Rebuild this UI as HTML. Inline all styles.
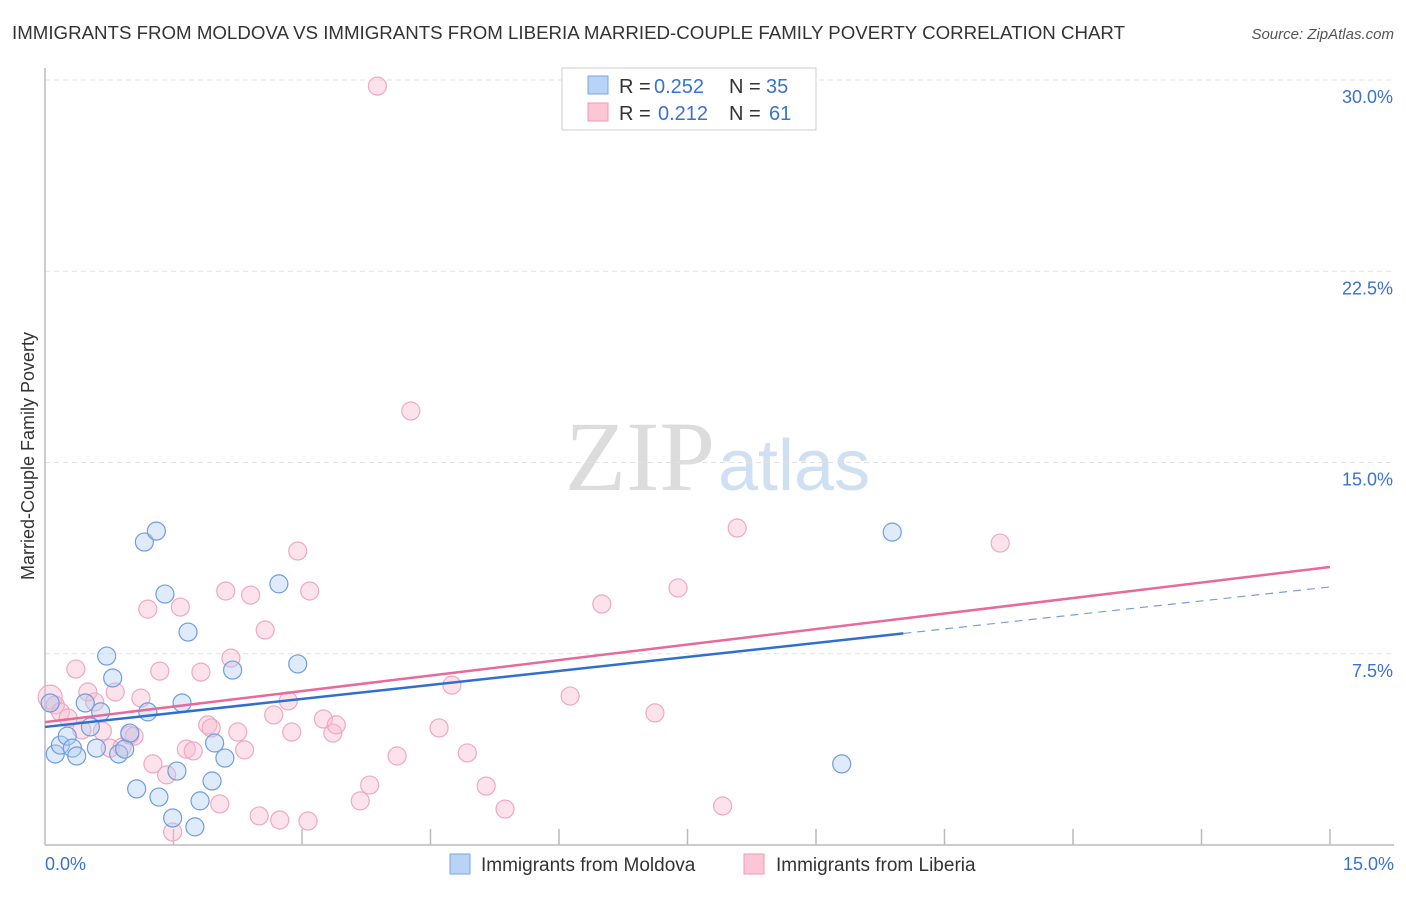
<!DOCTYPE html>
<html><head><meta charset="utf-8"><style>
body{margin:0;background:#fff;font-family:"Liberation Sans",sans-serif;}
</style></head><body>
<svg id="c" width="1406" height="892" xmlns="http://www.w3.org/2000/svg" font-family="Liberation Sans, sans-serif">
<text x="12" y="39" font-size="18" fill="#333" textLength="1113" lengthAdjust="spacingAndGlyphs">IMMIGRANTS FROM MOLDOVA VS IMMIGRANTS FROM LIBERIA MARRIED-COUPLE FAMILY POVERTY CORRELATION CHART</text>
<text x="1394" y="39" font-size="15" fill="#555" text-anchor="end" font-style="italic">Source: ZipAtlas.com</text>
<text x="715" y="490" font-size="100" fill="#dcdcdc" text-anchor="end" style="font-family:'Liberation Serif',serif">ZIP</text>
<text x="718" y="490" font-size="72" fill="#cfe0f3">atlas</text>
<text transform="translate(34,456) rotate(-90)" font-size="18" fill="#333" text-anchor="middle">Married-Couple Family Poverty</text>
<g id="grid"></g><g id="pts"></g><g id="lines"></g>
<g>
<rect x="562" y="68" width="254" height="62" fill="#fff" stroke="#ccc"/>
<rect x="588" y="76" width="20" height="18" fill="#b8d3f5" stroke="#7aa6e0"/>
<rect x="588" y="103" width="20" height="18" fill="#fcc6d6" stroke="#ee9ab4"/>
<text x="619" y="93" font-size="20" fill="#333">R =</text>
<text x="654" y="93" font-size="20" fill="#3a72d1">0.252</text>
<text x="729" y="93" font-size="20" fill="#333">N =</text>
<text x="766" y="93" font-size="20" fill="#3a72d1">35</text>
<text x="619" y="120" font-size="20" fill="#333">R =</text>
<text x="658" y="120" font-size="20" fill="#3a72d1">0.212</text>
<text x="729" y="120" font-size="20" fill="#333">N =</text>
<text x="769" y="120" font-size="20" fill="#3a72d1">61</text>
</g>
<g>
<rect x="450" y="854" width="20" height="20" fill="#b8d3f5" stroke="#7aa6e0"/>
<text x="481" y="871" font-size="19" fill="#333">Immigrants from Moldova</text>
<rect x="744" y="854" width="20" height="20" fill="#fcc6d6" stroke="#ee9ab4"/>
<text x="776" y="871" font-size="19" fill="#333">Immigrants from Liberia</text>
</g>
</svg>
<script>
const yTicks=[7.5,15,22.5,30];
const yTickLabels=["7.5%","15.0%","22.5%","30.0%"];
const xTickLabels=["0.0%","15.0%"];
const moldovaX=[0.12,0.18,0.26,0.32,0.37,0.47,0.60,0.65,0.72,0.79,0.86,0.93,0.99,1.07,1.16,1.20,1.30,1.33,1.40,1.49,1.54,1.60,1.67,1.75,1.81,1.95,1.98,2.10,2.19,2.73,2.95,9.30,9.89,0.06,0.53];
const moldovaY=[3.57,3.92,4.27,3.80,3.49,5.57,3.80,5.22,7.41,6.55,3.57,3.76,4.39,2.20,11.88,5.22,12.31,1.88,9.84,1.06,2.90,5.57,8.35,0.71,1.73,2.51,4.00,3.41,6.86,10.24,7.10,3.18,12.27,5.57,4.63];
const liberiaX=[0.06,0.12,0.18,0.27,0.36,0.43,0.50,0.58,0.67,0.76,0.82,0.90,0.99,1.04,1.12,1.20,1.26,1.34,1.42,1.49,1.58,1.65,1.73,1.82,1.90,1.94,2.04,2.11,2.17,2.25,2.33,2.40,2.50,2.57,2.67,2.74,2.84,2.88,2.95,3.07,3.09,3.25,3.36,3.40,3.68,3.79,3.88,4.11,4.27,4.60,4.75,4.93,5.15,5.37,6.13,6.50,7.12,7.39,7.91,8.08,11.15];
const liberiaY=[5.80,5.49,5.22,4.98,6.90,4.51,6.00,5.61,4.47,3.80,6.00,3.84,4.31,4.27,5.76,9.25,3.18,6.82,2.75,0.51,9.33,3.76,3.69,6.78,4.71,4.59,1.61,9.96,7.33,4.43,3.73,9.80,1.14,8.43,5.10,0.98,5.65,4.43,11.53,0.94,9.96,4.94,4.39,4.71,1.73,2.35,29.76,3.49,17.02,4.59,6.27,3.61,2.31,1.41,5.84,9.45,5.18,10.08,1.53,12.43,11.84];
const moldovaTrend=[4.63,10.12];
const liberiaTrend=[4.82,10.90];
const X0=45,X1=1330,Y0=845,Y30=80;
const sx=v=>X0+(X1-X0)*v/15, sy=v=>Y0-(Y0-Y30)*v/30;
const NS="http://www.w3.org/2000/svg";
function mk(t,a,p){const e=document.createElementNS(NS,t);for(const k in a)e.setAttribute(k,a[k]);p.appendChild(e);return e;}
const g=document.getElementById('grid');
yTicks.forEach((v,i)=>{const l=mk('line',{x1:X0,x2:1394,y1:sy(v),y2:sy(v),stroke:'#e2e2e2','stroke-dasharray':'5,4'},g);


const t=mk('text',{x:1393,y:sy(v)+23,'font-size':18,fill:'#3a72d1','text-anchor':'end'},g);t.textContent=yTickLabels[i];

});
const ax=mk('line',{x1:X0,x2:X0,y1:68,y2:Y0,stroke:'#bbb','stroke-width':1.5},g);


const bx=mk('line',{x1:X0,x2:1394,y1:Y0,y2:Y0,stroke:'#bbb','stroke-width':1.5},g);


for(let i=1;i<=10;i++){const t=mk('line',{x1:sx(i*1.5),x2:sx(i*1.5),y1:Y0-16,y2:Y0,stroke:'#bbb','stroke-width':1.5},g);

}
[[0,'start',45],[15,'end',1394]].forEach((d,i)=>{const t=mk('text',{x:d[2],y:870,'font-size':18,fill:'#3a72d1','text-anchor':d[1]},g);t.textContent=xTickLabels[i];

});
const p=document.getElementById('pts');
liberiaX.forEach((x,i)=>{const c=mk('circle',{cx:sx(x),cy:sy(liberiaY[i]),r:i==0?12:9,fill:'rgba(248,185,205,0.4)',stroke:'#f0a8bf','stroke-width':1.2},p);

});
moldovaX.forEach((x,i)=>{const c=mk('circle',{cx:sx(x),cy:sy(moldovaY[i]),r:9,fill:'rgba(175,205,242,0.4)',stroke:'#6f9de0','stroke-width':1.2},p);

});
const L=document.getElementById('lines');
const by=x=>moldovaTrend[0]+(moldovaTrend[1]-moldovaTrend[0])*x/15;
let e=mk('line',{x1:sx(0),y1:sy(moldovaTrend[0]),x2:sx(10.02),y2:sy(by(10.02)),stroke:'#2f6fd0','stroke-width':2.5},L);


e=mk('line',{x1:sx(10.02),y1:sy(by(10.02)),x2:sx(15),y2:sy(moldovaTrend[1]),stroke:'#7a9fd8','stroke-width':1.2,'stroke-dasharray':'8,6'},L);


e=mk('line',{x1:sx(0),y1:sy(liberiaTrend[0]),x2:sx(15),y2:sy(liberiaTrend[1]),stroke:'#e8699a','stroke-width':2.5},L);


</script>
</body></html>
